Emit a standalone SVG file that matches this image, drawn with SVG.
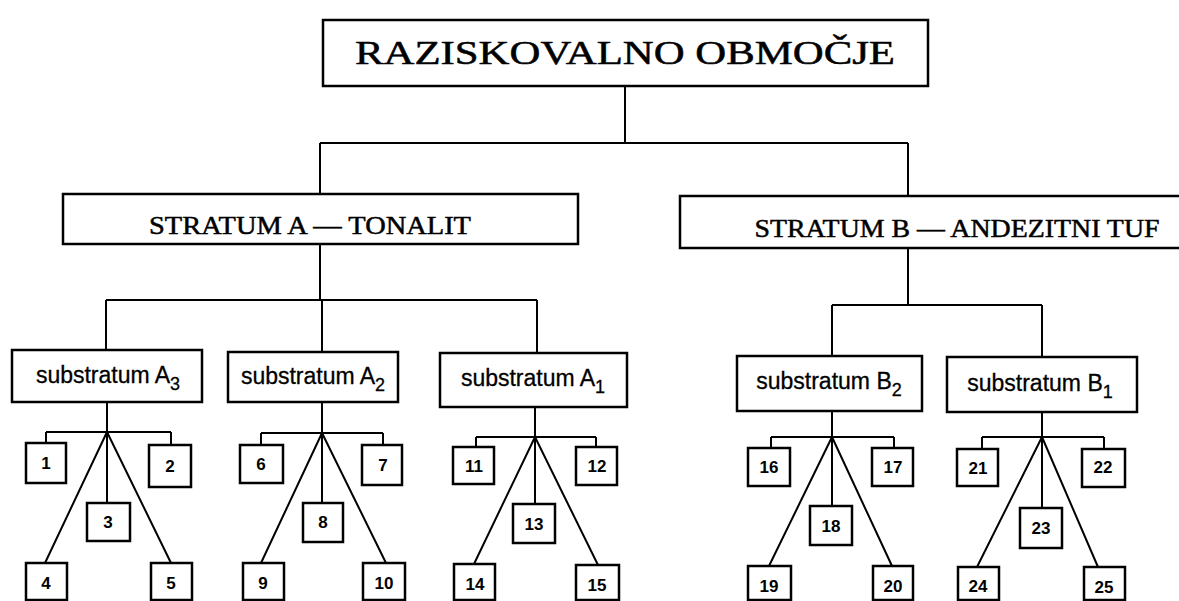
<svg xmlns="http://www.w3.org/2000/svg" width="1179" height="601" viewBox="0 0 1179 601">
<style>
.box{fill:#fff;stroke:#000;stroke-width:2.5}
.sb{fill:#fff;stroke:#000;stroke-width:2.5}
.ln{fill:none;stroke:#000;stroke-width:2}
.hd{font-family:"Liberation Serif",serif;fill:#000;stroke:#000;stroke-width:0.5;text-anchor:middle}
.sub{font-family:"Liberation Sans",sans-serif;font-size:23px;fill:#000;stroke:#000;stroke-width:0.3;text-anchor:middle}
.num{font-family:"Liberation Sans",sans-serif;font-size:17px;font-weight:bold;fill:#000;text-anchor:middle}
</style>
<rect width="1179" height="601" fill="#fff"/>
<g id="connectors">
<path class="ln" d="M625 86V143M320 143H908M320 143V194M908 143V196"/>
<path class="ln" d="M320 244V300M106 300H537M106 300V350M322 300V352M537 300V354"/>
<path class="ln" d="M908 248V305M832 305H1042M832 305V356M1042 305V358"/>
<path class="ln" d="M107 402V432M46 432H171M46 432V443M171 432V445M107 432V503M107 432L45 563M107 432L171 563"/>
<path class="ln" d="M322 402V433M261 433H383M261 433V445M383 433V445M322 433V503M322 433L261 563M322 433L386 563"/>
<path class="ln" d="M535 407V437M476 437H596M476 437V447M596 437V447M535 437V504M535 437L474 564M535 437L598 565"/>
<path class="ln" d="M832 411V437M771 437H894M771 437V448M894 437V448M832 437V506M832 437L769 566M832 437L892 566"/>
<path class="ln" d="M1042 412V437M982 437H1104M982 437V449M1104 437V449M1042 437V508M1042 437L977 567M1042 437L1098 567"/>
</g>
<g id="root"><rect class="box" x="323" y="20" width="605" height="66"/><text class="hd" x="625" y="64" font-size="33" textLength="540" lengthAdjust="spacingAndGlyphs">RAZISKOVALNO OBMOČJE</text></g>
<g id="stratumA"><rect class="box" x="63" y="194" width="515" height="50"/><text class="hd" x="310" y="234" font-size="26" textLength="322" lengthAdjust="spacingAndGlyphs">STRATUM A — TONALIT</text></g>
<g id="stratumB"><rect class="box" x="680" y="196" width="510" height="52"/><text class="hd" x="957" y="237" font-size="26" textLength="405" lengthAdjust="spacingAndGlyphs">STRATUM B — ANDEZITNI TUF</text></g>
<g id="subA3"><rect class="box" x="12" y="350" width="190" height="52"/><text class="sub" x="108" y="383">substratum A<tspan font-size="18" dy="7">3</tspan></text></g>
<g id="subA2"><rect class="box" x="228" y="352" width="170" height="50"/><text class="sub" x="313" y="384">substratum A<tspan font-size="18" dy="7">2</tspan></text></g>
<g id="subA1"><rect class="box" x="440" y="353" width="187" height="54"/><text class="sub" x="533" y="386">substratum A<tspan font-size="18" dy="7">1</tspan></text></g>
<g id="subB2"><rect class="box" x="737" y="356" width="185" height="55"/><text class="sub" x="829" y="389">substratum B<tspan font-size="18" dy="7">2</tspan></text></g>
<g id="subB1"><rect class="box" x="947" y="357" width="190" height="55"/><text class="sub" x="1040" y="391">substratum B<tspan font-size="18" dy="7">1</tspan></text></g>
<g id="n1"><rect class="sb" x="26" y="443" width="40" height="40"/><text class="num" x="46" y="469">1</text></g>
<g id="n2"><rect class="sb" x="149" y="445" width="42" height="42"/><text class="num" x="170" y="472">2</text></g>
<g id="n3"><rect class="sb" x="87" y="503" width="43" height="38"/><text class="num" x="108" y="528">3</text></g>
<g id="n4"><rect class="sb" x="26" y="563" width="41" height="37"/><text class="num" x="46" y="589">4</text></g>
<g id="n5"><rect class="sb" x="151" y="563" width="41" height="37"/><text class="num" x="171" y="589">5</text></g>
<g id="n6"><rect class="sb" x="240" y="445" width="43" height="38"/><text class="num" x="261" y="470">6</text></g>
<g id="n7"><rect class="sb" x="362" y="445" width="40" height="40"/><text class="num" x="383" y="471">7</text></g>
<g id="n8"><rect class="sb" x="303" y="503" width="40" height="39"/><text class="num" x="323" y="528">8</text></g>
<g id="n9"><rect class="sb" x="243" y="563" width="41" height="37"/><text class="num" x="263" y="589">9</text></g>
<g id="n10"><rect class="sb" x="363" y="563" width="42" height="37"/><text class="num" x="384" y="589">10</text></g>
<g id="n11"><rect class="sb" x="453" y="447" width="41" height="37"/><text class="num" x="474" y="472">11</text></g>
<g id="n12"><rect class="sb" x="576" y="447" width="41" height="38"/><text class="num" x="597" y="472">12</text></g>
<g id="n13"><rect class="sb" x="513" y="504" width="42" height="39"/><text class="num" x="534" y="530">13</text></g>
<g id="n14"><rect class="sb" x="454" y="564" width="41" height="36"/><text class="num" x="475" y="590">14</text></g>
<g id="n15"><rect class="sb" x="576" y="565" width="43" height="35"/><text class="num" x="597" y="591">15</text></g>
<g id="n16"><rect class="sb" x="748" y="448" width="42" height="38"/><text class="num" x="769" y="473">16</text></g>
<g id="n17"><rect class="sb" x="872" y="448" width="41" height="38"/><text class="num" x="893" y="473">17</text></g>
<g id="n18"><rect class="sb" x="810" y="506" width="42" height="39"/><text class="num" x="831" y="532">18</text></g>
<g id="n19"><rect class="sb" x="748" y="566" width="43" height="34"/><text class="num" x="769" y="592">19</text></g>
<g id="n20"><rect class="sb" x="873" y="566" width="40" height="34"/><text class="num" x="893" y="592">20</text></g>
<g id="n21"><rect class="sb" x="957" y="449" width="41" height="37"/><text class="num" x="978" y="474">21</text></g>
<g id="n22"><rect class="sb" x="1082" y="449" width="43" height="38"/><text class="num" x="1103" y="473">22</text></g>
<g id="n23"><rect class="sb" x="1020" y="508" width="42" height="40"/><text class="num" x="1041" y="534">23</text></g>
<g id="n24"><rect class="sb" x="958" y="567" width="41" height="33"/><text class="num" x="978" y="592">24</text></g>
<g id="n25"><rect class="sb" x="1084" y="567" width="41" height="33"/><text class="num" x="1104" y="593">25</text></g>
</svg>
